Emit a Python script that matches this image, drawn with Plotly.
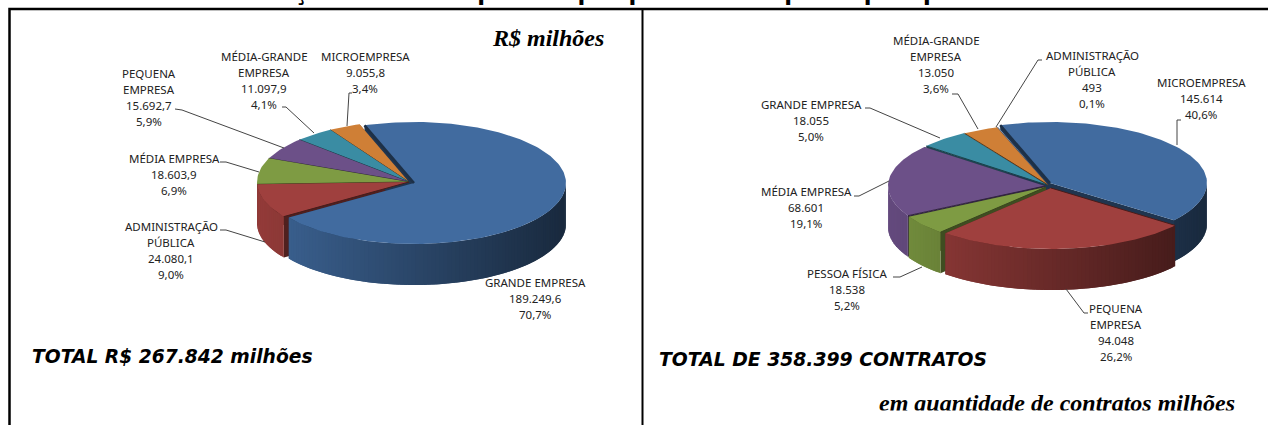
import math
import plotly.graph_objects as go

# ---------- data ----------
left_categories = ["GRANDE EMPRESA", "ADMINISTRAÇÃO<br>PÚBLICA", "MÉDIA EMPRESA",
                   "PEQUENA<br>EMPRESA", "MÉDIA-GRANDE<br>EMPRESA", "MICROEMPRESA"]
left_values = [189249.6, 24080.1, 18603.9, 15692.7, 11097.9, 9055.8]
left_value_labels = ["189.249,6", "24.080,1", "18.603,9", "15.692,7", "11.097,9", "9.055,8"]
left_percents = ["70,7%", "9,0%", "6,9%", "5,9%", "4,1%", "3,4%"]

right_categories = ["MICROEMPRESA", "PEQUENA<br>EMPRESA", "PESSOA FÍSICA", "MÉDIA EMPRESA",
                    "GRANDE EMPRESA", "MÉDIA-GRANDE<br>EMPRESA", "ADMINISTRAÇÃO<br>PÚBLICA"]
right_values = [145614, 94048, 18538, 68601, 18055, 13050, 493]
right_value_labels = ["145.614", "94.048", "18.538", "68.601", "18.055", "13.050", "493"]
right_percents = ["40,6%", "26,2%", "5,2%", "19,1%", "5,0%", "3,6%", "0,1%"]

title_text = "Gráficos 5.30 - Distribuição do saldo aplicado por porte de empresa por quantidade de contratos"

# ---------- styles and layout ----------
BLUE, RED, GREEN, PURPLE, TEAL, ORANGE, PALE = ("#416B9F", "#9F403E", "#7E9B43", "#6C5088",
                                               "#3A8CA3", "#CF7F36", "#92A9CF")
left_style = dict(
    start=-19, rx=152, ry=61, depth=41,
    colors=[BLUE, RED, GREEN, PURPLE, TEAL, ORANGE],
    centres=[(414, 183), (409, 182), (409, 182), (409, 182), (409, 182), (409, 182)],
    order=[5, 4, 3, 2, 1, 0],
    label_pos=[(535, 298), (171, 250), (174, 174), (149, 97), (264, 80), (365, 72)],
    leaders=[None,
             [(220, 230), (226, 230), (265, 242)],
             [(220, 162), (226, 162), (259, 172)],
             [(175, 109), (182, 110), (284, 148)],
             [(282, 107), (286, 107), (314, 133)],
             [(352, 93), (349, 93), (347, 126)]],
)
right_style = dict(
    start=-18.5, rx=157, ry=61, depth=41,
    colors=[BLUE, RED, GREEN, PURPLE, TEAL, ORANGE, PALE],
    centres=[(1050, 183), (1051, 188), (1046, 187), (1045, 186), (1047, 185), (1048, 185), (1048, 185)],
    order=[6, 5, 4, 0, 3, 2, 1],
    label_pos=[(1201, 98), (1116, 332), (847, 289), (806, 207), (811, 120), (936, 64), (1092, 79)],
    leaders=[[(1181, 120), (1177, 120), (1177, 145)],
             [(1088, 313), (1084, 313), (1066, 289)],
             [(893, 277), (900, 277), (922, 267)],
             [(854, 196), (859, 196), (889, 181)],
             [(865, 108), (870, 108), (940, 138)],
             [(952, 94), (958, 94), (978, 129)],
             [(1042, 60), (1038, 60), (996, 127)]],
)
LABEL_FONT = dict(family="Noto Sans", size=11.5, color="#222222")
LINE_STEP = 16


def shade(hex_color, f):
    r, g, b = (int(hex_color[i:i + 2], 16) for i in (1, 3, 5))
    return f"rgb({min(255, int(r * f))},{min(255, int(g * f))},{min(255, int(b * f))})"


def rim(c, rx, ry, deg, dy=0):
    a = math.radians(deg)
    return c[0] + rx * math.sin(a), c[1] - ry * math.cos(a) + dy


fig = go.Figure()


def poly(pts, fill, width=0.0):
    fig.add_trace(go.Scatter(
        x=[p[0] for p in pts] + [pts[0][0]], y=[p[1] for p in pts] + [pts[0][1]],
        mode="lines", fill="toself", fillcolor=fill,
        line=dict(color=fill, width=width), hoverinfo="skip", showlegend=False))


def line(pts, color, width):
    fig.add_trace(go.Scatter(x=[p[0] for p in pts], y=[p[1] for p in pts], mode="lines",
                             line=dict(color=color, width=width), hoverinfo="skip", showlegend=False))


def draw_pie(values, style):
    total = sum(values)
    rx, ry, depth = style["rx"], style["ry"], style["depth"]
    angles = [style["start"]]
    for v in values:
        angles.append(angles[-1] + v / total * 360)
    # every radial wall goes first, so that tops and outer walls can cover them
    for i in style["order"]:
        c, col = style["centres"][i], style["colors"][i]
        for a in (angles[i], angles[i + 1]):
            p = rim(c, rx, ry, a)
            poly([c, p, (p[0], p[1] + depth), (c[0], c[1] + depth)], shade(col, 0.5))
    for i in style["order"]:
        a0, a1 = angles[i], angles[i + 1]
        c, col = style["centres"][i], style["colors"][i]
        # curved outer wall, split into overlapping strips for the shading
        lo, hi = max(a0, 90), min(a1, 270)
        if hi > lo:
            n = max(2, int((hi - lo) / 1.5))
            for k in range(n):
                b0 = lo + (hi - lo) * k / n
                b1 = min(hi, lo + (hi - lo) * (k + 2) / n)
                u = math.sin(math.radians(lo + (hi - lo) * (k + 0.5) / n))
                f = 0.66 - 0.27 * u
                poly([rim(c, rx, ry, b0), rim(c, rx, ry, b1),
                      rim(c, rx, ry, b1, depth), rim(c, rx, ry, b0, depth)], shade(col, f))
        # top face
        steps = max(2, int((a1 - a0) / 1.5))
        top = [c] + [rim(c, rx, ry, a0 + (a1 - a0) * k / steps) for k in range(steps + 1)]
        poly(top, col)
        line([c, rim(c, rx, ry, a0)], shade(col, 0.45), 2.5 if i == 0 else 1)


draw_pie(left_values, left_style)
draw_pie(right_values, right_style)

annotations = []


def note(x, y, text, font, xanchor="center", yanchor="middle"):
    annotations.append(dict(x=x, y=y, xref="x", yref="y", text=text, showarrow=False, font=font,
                            xanchor=xanchor, yanchor=yanchor))


for cats, vals, pcts, style in ((left_categories, left_value_labels, left_percents, left_style),
                                (right_categories, right_value_labels, right_percents, right_style)):
    for i, cat in enumerate(cats):
        rows = cat.split("<br>") + [vals[i], pcts[i]]
        x, y = style["label_pos"][i]
        for r, row in enumerate(rows):
            note(x, y + (r - (len(rows) - 1) / 2) * LINE_STEP, row, LABEL_FONT)
        if style["leaders"][i]:
            line(style["leaders"][i], "#444444", 1)

note(30, 356, "<b><i>TOTAL R$ 267.842 milhões</i></b>", dict(family="DejaVu Sans", size=18.7, color="black"), xanchor="left")
note(657, 359, "<b><i>TOTAL DE 358.399 CONTRATOS</i></b>", dict(family="DejaVu Sans", size=18.8, color="black"), xanchor="left")
note(548, 38, "<b><i>R$ milhões</i></b>", dict(family="Liberation Serif", size=24, color="black"))
note(1057, 403, "<b><i>em quantidade de contratos milhões</i></b>", dict(family="Liberation Serif", size=24, color="black"))
# white strip that crops the bottom of the line above, as the reference does
annotations.append(dict(x=1057, y=410, xref="x", yref="y", text=" ", showarrow=False, xanchor="center",
                        yanchor="top", width=400, height=15, bgcolor="white", borderpad=0))
note(610, 7.4, "<b>" + title_text + "</b>", dict(family="DejaVu Sans", size=22.7, color="black"), yanchor="bottom")

# frame
line([(9.5, 425), (9.5, 9), (1268, 9)], "black", 2.5)
line([(642.5, 9), (642.5, 425)], "black", 2)

fig.update_layout(
    width=1268, height=425, margin=dict(l=0, r=0, t=0, b=0),
    paper_bgcolor="white", plot_bgcolor="white", showlegend=False, annotations=annotations,
    xaxis=dict(range=[0, 1268], visible=False, fixedrange=True),
    yaxis=dict(range=[425, 0], visible=False, fixedrange=True),
)
fig.write_html("out.html", config=dict(displayModeBar=False),
               post_script="document.body.style.margin='0';document.body.style.overflow='hidden';")
